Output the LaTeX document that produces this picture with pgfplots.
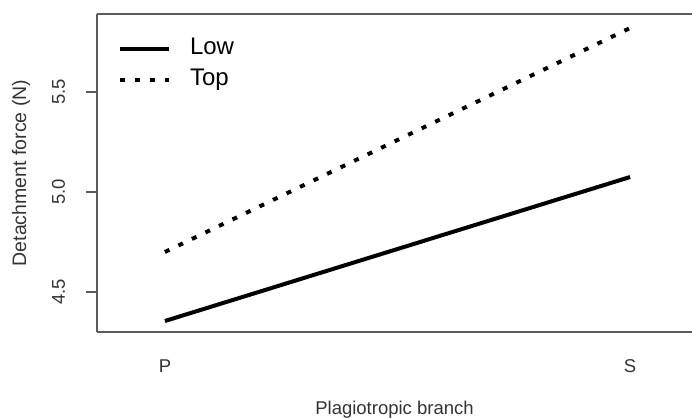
\documentclass[border=0pt]{standalone}
\usepackage{pgfplots}
\pgfplotsset{compat=1.18}
\usepackage{fontspec}
\setmainfont{Liberation Sans}
\definecolor{axgray}{HTML}{5A5A5A}
\definecolor{txtgray}{HTML}{333333}
\begin{document}
\begin{tikzpicture}
\useasboundingbox (0,0) rectangle (692bp,418bp);
\begin{axis}[
  at={(97bp,86bp)}, anchor=south west,
  scale only axis, width=595bp, height=318bp,
  xmin=0.854, xmax=2.133, ymin=4.30, ymax=5.89,
  axis x line*=box, axis y line*=left,
  axis line style={axgray, line width=1.3bp},
  xtick={1,2}, xticklabels={P,S},
  ytick={4.5,5.0,5.5}, yticklabels={4.5,5.0,5.5},
  x tick style={draw=none},
  y tick style={axgray, line width=1.3bp},
  tick align=outside, major tick length=11bp,
  xticklabel style={font=\fontsize{18.5bp}{22bp}\selectfont, text=txtgray, anchor=center, yshift=-23bp},
  yticklabel style={font=\fontsize{18.5bp}{22bp}\selectfont, text=txtgray, xshift=-27.5bp, rotate=90, anchor=center},
  xlabel={Plagiotropic branch},
  ylabel={Detachment force (N)},
  xlabel style={font=\fontsize{18.5bp}{22bp}\selectfont, text=txtgray, at={(axis description cs:0.5,-0.2453)}, anchor=center},
  ylabel style={font=\fontsize{19.5bp}{23bp}\selectfont, text=txtgray, at={(axis description cs:-0.1277,0.5)}, anchor=center},
  legend style={at={(axis description cs:0.0353,0.925)}, anchor=north west, draw=none, fill=none,
    inner sep=0pt, outer sep=0pt, row sep=9bp, column sep=19bp,
    font=\fontsize{24bp}{28bp}\selectfont,
    nodes={inner sep=0pt, text height=17bp, text depth=5bp}},
  legend cell align=left,
  legend image code/.code={\draw[#1] (0bp,0bp) -- (49bp,0bp);},
]
\addplot[black, line width=4bp] coordinates {(1,4.355) (2,5.075)};
\addplot[black, line width=4bp, dash pattern=on 5bp off 10bp] coordinates {(1,4.70) (2,5.82)};
\legend{Low, Top}
\end{axis}
\end{tikzpicture}
\end{document}
